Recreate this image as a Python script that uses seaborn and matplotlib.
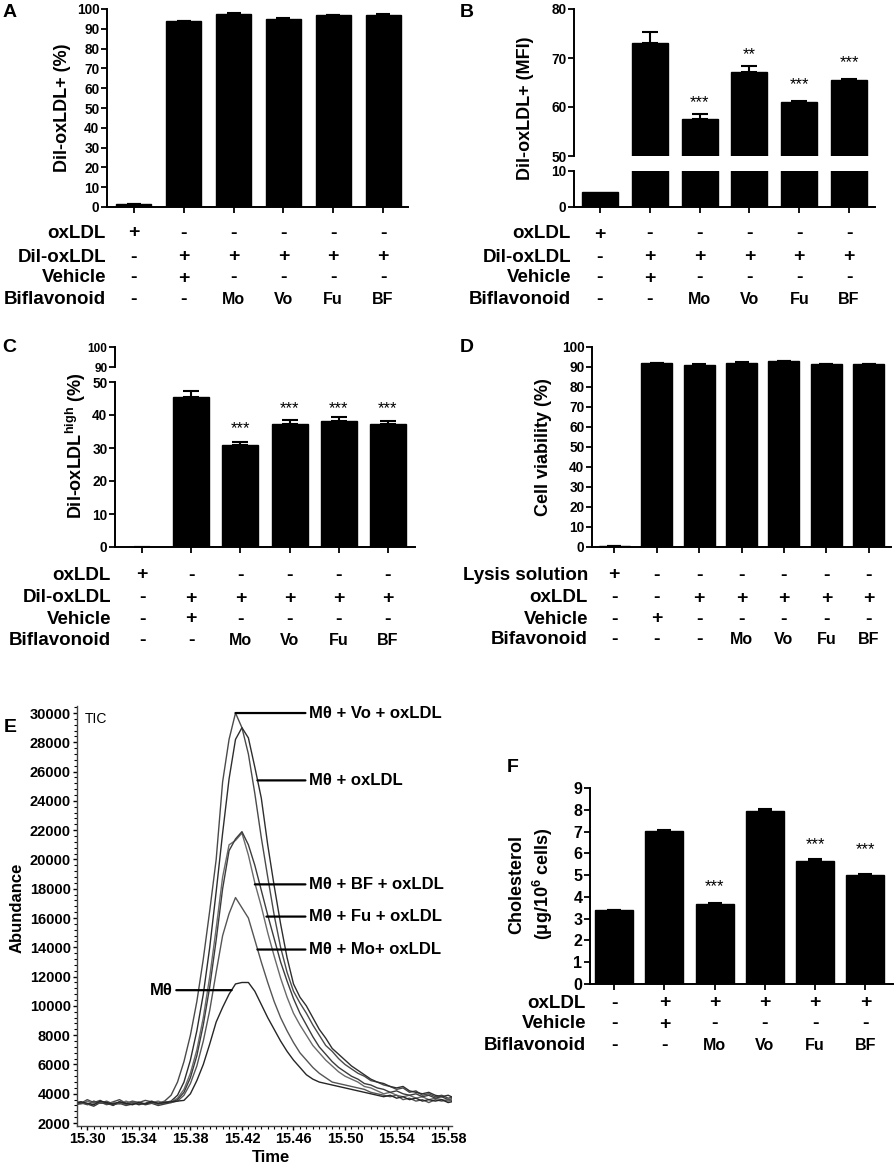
import numpy as np
import pandas as pd
import matplotlib
matplotlib.use("Agg")
import matplotlib.pyplot as plt
import matplotlib.transforms as mtransforms
from matplotlib.ticker import MultipleLocator
import seaborn as sns

# ---- data ----
uptake_groups = ["oxLDL", "Vehicle", "Mo", "Vo", "Fu", "BF"]
uptake_pct = [1.5, 93.7, 97.5, 95.1, 96.8, 97.1]
uptake_pct_err = [0.1, 0.2, 0.3, 0.2, 0.3, 0.2]

uptake_mfi = [4.2, 73.0, 57.5, 67.2, 61.1, 65.6]
uptake_mfi_err = [0.0, 2.4, 1.0, 1.2, 0.15, 0.1]
mfi_stars = ["", "", "***", "**", "***", "***"]
mfi_star_y = [np.nan, np.nan, 60.8, 70.6, 64.5, 69.0]

high_pct = [0.0, 45.5, 30.9, 37.2, 38.1, 37.3]
high_err = [0.0, 1.9, 1.0, 1.3, 1.2, 0.8]
high_stars = ["", "", "***", "***", "***", "***"]
high_star_y = [np.nan, np.nan, 35.8, 41.8, 41.8, 41.8]

viab_groups = ["Lysis", "Vehicle", "oxLDL", "Mo", "Vo", "Fu", "BF"]
viab_pct = [0.5, 91.8, 91.2, 92.2, 93.0, 91.5, 91.5]
viab_err = [0.1, 0.2, 0.2, 0.2, 0.2, 0.2, 0.2]

chol_groups = ["Control", "Vehicle", "Mo", "Vo", "Fu", "BF"]
chol = [3.38, 7.02, 3.68, 7.96, 5.66, 5.00]
chol_err = [0.02, 0.05, 0.04, 0.08, 0.06, 0.03]
chol_stars = ["", "", "***", "", "***", "***"]
chol_star_y = [np.nan, np.nan, 4.46, np.nan, 6.4, 6.19]

rows_abc_labels = ["oxLDL", "Dil-oxLDL", "Vehicle", "Biflavonoid"]
rows_abc = [["+", "-", "-", "-", "-", "-"],
            ["-", "+", "+", "+", "+", "+"],
            ["-", "+", "-", "-", "-", "-"],
            ["-", "-", "Mo", "Vo", "Fu", "BF"]]
rows_d_labels = ["Lysis solution", "oxLDL", "Vehicle", "Bifavonoid"]
rows_d = [["+", "-", "-", "-", "-", "-", "-"],
          ["-", "-", "+", "+", "+", "+", "+"],
          ["-", "+", "-", "-", "-", "-", "-"],
          ["-", "-", "-", "Mo", "Vo", "Fu", "BF"]]
rows_f_labels = ["oxLDL", "Vehicle", "Biflavonoid"]
rows_f = [["-", "+", "+", "+", "+", "+"],
          ["-", "+", "-", "-", "-", "-"],
          ["-", "-", "Mo", "Vo", "Fu", "BF"]]

# TIC chromatogram (panel E)
tic_time = [15.290, 15.295, 15.300, 15.305, 15.310, 15.315, 15.320, 15.325, 15.330, 15.335,
            15.340, 15.345, 15.350, 15.355, 15.360, 15.365, 15.370, 15.375, 15.380, 15.385,
            15.390, 15.395, 15.400, 15.405, 15.410, 15.415, 15.420, 15.425, 15.430, 15.435,
            15.440, 15.445, 15.450, 15.455, 15.460, 15.465, 15.470, 15.475, 15.480, 15.485,
            15.490, 15.495, 15.500, 15.505, 15.510, 15.515, 15.520, 15.525, 15.530, 15.535,
            15.540, 15.545, 15.550, 15.555, 15.560, 15.565, 15.570, 15.575, 15.580, 15.585]
tic_vo = [3500, 3350, 3600, 3400, 3550, 3300, 3450, 3600, 3350, 3500, 3400, 3550, 3450, 3350, 3500,
          3900, 4800, 6200, 8000, 10300, 13200, 16500, 20000, 25300, 28200, 30000, 29000, 27200,
          24500, 21500, 18800, 16200, 14000, 12300, 11000, 10200, 9500, 8700, 8000, 7300, 6900,
          6400, 6000, 5700, 5400, 5200, 4900, 4800, 4600, 4500, 4300, 4400, 4100, 4200, 3900,
          4000, 3800, 3900, 3700, 3800]
tic_ox = [3300, 3450, 3250, 3500, 3350, 3400, 3200, 3450, 3300, 3400, 3250, 3350, 3500, 3300, 3400,
          3500, 3900, 4800, 6300, 8300, 10800, 14000, 17800, 21800, 25500, 28200, 29000, 28300,
          26300, 24200, 21000, 18200, 15600, 13300, 11500, 10600, 10000, 9200, 8400, 7800, 7100,
          6700, 6300, 5900, 5600, 5300, 5000, 4800, 4700, 4500, 4400, 4500, 4200, 4100, 4000,
          4100, 3900, 3800, 3900, 3700]
tic_bf = [3400, 3300, 3500, 3350, 3450, 3250, 3400, 3300, 3500, 3350, 3450, 3300, 3400, 3500, 3350,
          3450, 3700, 4300, 5400, 7000, 9200, 12000, 15300, 18800, 21000, 21300, 21800, 20300,
          18400, 16800, 15000, 13400, 11900, 10600, 9500, 8700, 8000, 7300, 6800, 6300, 5900,
          5500, 5200, 5000, 4800, 4500, 4400, 4200, 4000, 4100, 3900, 3800, 3900, 3700, 3800,
          3600, 3700, 3600, 3500, 3600]
tic_fu = [3200, 3350, 3300, 3150, 3400, 3300, 3250, 3350, 3200, 3300, 3400, 3250, 3350, 3200, 3300,
          3400, 3600, 4100, 5100, 6600, 8700, 11300, 14500, 18000, 20600, 21400, 21900, 21000,
          19600, 17900, 16200, 14600, 13000, 11700, 10500, 9500, 8700, 7900, 7200, 6700, 6200,
          5800, 5500, 5200, 5000, 4700, 4600, 4400, 4300, 4100, 4200, 4000, 3900, 4000, 3800,
          3900, 3700, 3800, 3600, 3700]
tic_mo = [3500, 3400, 3300, 3450, 3350, 3500, 3300, 3400, 3250, 3450, 3350, 3300, 3400, 3300, 3450,
          3400, 3500, 3900, 4700, 5900, 7600, 9700, 12300, 14800, 16300, 17400, 16700, 16000,
          14500, 13000, 11600, 10300, 9200, 8300, 7500, 6800, 6300, 5800, 5400, 5100, 4800,
          4700, 4600, 4500, 4400, 4300, 4100, 4000, 3900, 3800, 3900, 3600, 3700, 3500, 3600,
          3400, 3600, 3500, 3600, 3500]
tic_mt = [3300, 3450, 3350, 3250, 3500, 3400, 3300, 3450, 3350, 3250, 3400, 3300, 3450, 3350, 3400,
          3450, 3500, 3550, 4000, 4900, 6000, 7400, 8900, 9900, 10800, 11500, 11600, 11600,
          11000, 10100, 9200, 8400, 7600, 6900, 6300, 5800, 5300, 5000, 4800, 4700, 4600,
          4500, 4400, 4300, 4200, 4100, 4000, 3900, 3800, 3900, 3700, 3800, 3600, 3700, 3500,
          3600, 3500, 3600, 3400, 3500]
tic_samples = ["Vo", "oxLDL", "BF", "Fu", "Mo", "Mθ"]
tic_colors = ["#4a4a4a", "#2e2e2e", "#6a6a6a", "#3c3c3c", "#555555", "#262626"]
tic_xticks = [15.30, 15.34, 15.38, 15.42, 15.46, 15.50, 15.54, 15.58]

tic_label_text = ["Mθ + Vo + oxLDL", "Mθ + oxLDL", "Mθ + BF + oxLDL", "Mθ + Fu + oxLDL", "Mθ + Mo+ oxLDL"]
tic_label_pt = [(15.415, 30000), (15.432, 25400), (15.430, 18300), (15.439, 16100), (15.432, 13850)]

# ---- style ----
sns.set_style("ticks", {"axes.edgecolor": "black", "xtick.color": "black",
                        "ytick.color": "black", "text.color": "black"})
plt.rcParams["font.family"] = ["Liberation Sans", "DejaVu Sans"]
plt.rcParams["font.weight"] = "bold"
plt.rcParams["mathtext.fontset"] = "custom"
plt.rcParams["mathtext.rm"] = "Liberation Sans:bold"
plt.rcParams["mathtext.bf"] = "Liberation Sans:bold"
plt.rcParams["mathtext.default"] = "bf"

W, H = 896, 1168
fig = plt.figure(figsize=(W / 100, H / 100), dpi=100)


def fx(px):
    return px / W


def fy(py):
    return 1 - py / H


def box(left, top, right, bottom):
    return [fx(left), fy(bottom), (right - left) / W, (bottom - top) / H]


def bars(ax, groups, vals, width):
    sns.barplot(x=groups, y=vals, order=groups, color="black", edgecolor="black",
                saturation=1, width=width, errorbar=None, ax=ax)
    ax.set_xlabel("")
    ax.set_ylabel("")
    ax.set_xticks(range(len(groups)))
    ax.set_xticklabels([])


def errs(ax, vals, err, cap=6):
    n = len(vals)
    ax.errorbar(range(n), vals, yerr=[np.zeros(n), err], fmt="none", ecolor="black",
                elinewidth=1.5, capsize=cap, capthick=1.5)


def stars(ax, marks, ys, size=12):
    for i, (m, y) in enumerate(zip(marks, ys)):
        if m:
            ax.text(i, y, m, ha="center", va="center", fontsize=size, fontweight="normal")


def style(ax, yticks, xlim, ylim, size=9.8):
    ax.set_xlim(xlim)
    ax.set_ylim(ylim)
    ax.set_yticks(list(yticks))
    sns.despine(ax=ax)
    for s in ("left", "bottom"):
        ax.spines[s].set_linewidth(1.4)
    ax.tick_params(direction="out", length=4, width=1.3, labelsize=size, pad=1.5)


def table(ax, labels, rows, label_right, row_ys):
    tr = mtransforms.blended_transform_factory(ax.transData, fig.transFigure)
    for lab, row, y in zip(labels, rows, row_ys):
        fig.text(fx(label_right), fy(y), lab, ha="right", va="center", fontsize=13.5)
        for j, s in enumerate(row):
            size = 14 if s in ("+", "-") else 11.5
            ax.text(j, fy(y), s, transform=tr, ha="center", va="center", fontsize=size,
                    clip_on=False)


def no_bottom(ax):
    ax.spines["bottom"].set_visible(False)
    ax.tick_params(axis="x", bottom=False, labelbottom=False)


# ---- A ----
axA = fig.add_axes(box(107, 9, 408, 207))
bars(axA, uptake_groups, uptake_pct, 0.7)
errs(axA, uptake_pct, uptake_pct_err, cap=5)
style(axA, range(0, 101, 10), (-0.54, 5.5), (0, 100))
table(axA, rows_abc_labels, rows_abc, 106, [233, 257, 278, 299])

# ---- B (broken axis) ----
axB1 = fig.add_axes(box(574, 9, 875, 156))
axB0 = fig.add_axes(box(574, 171, 875, 207))
for ax in (axB1, axB0):
    bars(ax, uptake_groups, uptake_mfi, 0.72)
errs(axB1, uptake_mfi, uptake_mfi_err)
stars(axB1, mfi_stars, mfi_star_y)
style(axB1, [50, 60, 70, 80], (-0.52, 5.52), (50, 80))
no_bottom(axB1)
style(axB0, [0, 10], (-0.52, 5.52), (0, 10))
table(axB0, rows_abc_labels, rows_abc, 571, [234, 257, 278, 299])

# ---- C (broken axis) ----
axC1 = fig.add_axes(box(115, 347, 415, 367))
style(axC1, [90, 100], (-0.55, 5.55), (90, 100), size=8.5)
no_bottom(axC1)
axC0 = fig.add_axes(box(115, 382, 415, 547))
bars(axC0, uptake_groups, high_pct, 0.73)
errs(axC0, high_pct, high_err)
stars(axC0, high_stars, high_star_y)
style(axC0, range(0, 51, 10), (-0.55, 5.55), (0, 50))
table(axC0, rows_abc_labels, rows_abc, 111, [575, 598, 619, 641])

# ---- D ----
axD = fig.add_axes(box(592, 347, 891, 547))
bars(axD, viab_groups, viab_pct, 0.73)
errs(axD, viab_pct, viab_err, cap=5)
style(axD, range(0, 101, 10), (-0.52, 6.52), (0, 100))
table(axD, rows_d_labels, rows_d, 588, [575, 598, 619, 640])

# ---- E ----
axE = fig.add_axes(box(77, 706, 452, 1126))
tic = pd.DataFrame({
    "Time": tic_time * len(tic_samples),
    "Abundance": tic_vo + tic_ox + tic_bf + tic_fu + tic_mo + tic_mt,
    "Sample": [s for s in tic_samples for _ in tic_time],
})
sns.lineplot(data=tic, x="Time", y="Abundance", hue="Sample", hue_order=tic_samples,
             palette=tic_colors, legend=False, linewidth=1.0, errorbar=None, ax=axE)
axE.set_xlabel("")
axE.set_ylabel("")
axE.set_xlim(15.292, 15.583)
axE.set_ylim(1800, 30480)
axE.set_xticks(tic_xticks)
axE.set_xticklabels([f"{t:.2f}" for t in tic_xticks])
axE.set_yticks(range(2000, 30001, 2000))
axE.xaxis.set_minor_locator(MultipleLocator(0.005))
axE.yaxis.set_minor_locator(MultipleLocator(400))
sns.despine(ax=axE)
for s in ("left", "bottom"):
    axE.spines[s].set_linewidth(1.0)
    axE.spines[s].set_color("#444444")
axE.tick_params(which="major", direction="out", length=3, width=1, labelsize=10.5, pad=1.5)
axE.tick_params(which="minor", direction="out", length=2, width=0.8)
axE.text(0.02, 0.985, "TIC", transform=axE.transAxes, ha="left", va="top",
         fontsize=10, fontweight="normal")
for lab, pt in zip(tic_label_text, tic_label_pt):
    axE.annotate(lab, xy=pt, xytext=(15.4718, pt[1]), ha="left", va="center", fontsize=12,
                 annotation_clip=False,
                 arrowprops=dict(arrowstyle="-", lw=1.6, color="black", shrinkA=0, shrinkB=0))
axE.annotate("Mθ", xy=(15.412, 11075), xytext=(15.3665, 11075), ha="right", va="center",
             fontsize=12, arrowprops=dict(arrowstyle="-", lw=1.6, color="black",
                                          shrinkA=0, shrinkB=0))

# ---- F ----
axF = fig.add_axes(box(590, 788, 893, 984))
bars(axF, chol_groups, chol, 0.76)
errs(axF, chol, chol_err, cap=5)
stars(axF, chol_stars, chol_star_y)
style(axF, range(0, 10), (-0.48, 5.55), (0, 9), size=11.5)
table(axF, rows_f_labels, rows_f, 586, [1003, 1024, 1046])

# ---- axis titles and panel letters ----
ylab = dict(rotation=90, ha="center", va="center", fontsize=13)
fig.text(fx(62), fy(108), "Dil-oxLDL+ (%)", **ylab)
fig.text(fx(526), fy(108), "Dil-oxLDL+ (MFI)", **ylab)
fig.text(fx(76), fy(446), "Dil-oxLDL$^{high}$ (%)", **ylab)
fig.text(fx(544), fy(447), "Cell viability (%)", **ylab)
fig.text(fx(532), fy(884), "Cholesterol\n(μg/10$^6$ cells)", linespacing=1.3,
         multialignment="center", **ylab)
fig.text(fx(17), fy(908), "Abundance", rotation=90, ha="center", va="center", fontsize=12)
fig.text(fx(271), fy(1158), "Time", ha="center", va="center", fontsize=12)

for letter, (px, py) in zip("ABCDEF", [(9.5, 12.5), (467, 12.5), (9, 347), (467, 347),
                                       (10, 727), (513, 768)]):
    fig.text(fx(px), fy(py), letter, ha="center", va="center", fontsize=14)

fig.savefig("out.png", dpi=100)
